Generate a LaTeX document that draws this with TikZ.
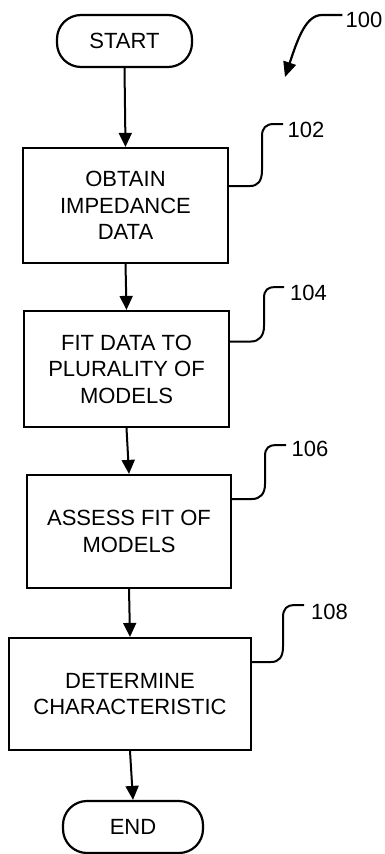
\documentclass[tikz,border=0pt]{standalone}
\usepackage{fontspec}
\setmainfont{Liberation Sans}
\usetikzlibrary{arrows.meta}
\tikzset{
  x=1pt, y=-1pt,
  box/.style={draw, line width=2.2pt, inner sep=0pt, align=center, font=\fontsize{22}{26.5}\selectfont},
  term/.style={box, rounded corners=24pt},
  lbl/.style={inner sep=0pt, font=\fontsize{22}{26.5}\selectfont},
  flow/.style={line width=2pt, -{Triangle[width=13pt,length=14pt]}},
  leader/.style={line width=2pt},
}
\begin{document}
\begin{tikzpicture}
\useasboundingbox (0,0) rectangle (384,854);
\node[term, minimum width=135pt, minimum height=52pt] (start) at (124.5,41) {START};
\node[box, minimum width=205pt, minimum height=115pt] (b102) at (125.5,205.5) {OBTAIN\\IMPEDANCE\\DATA};
\node[box, minimum width=205pt, minimum height=116pt] (b104) at (126.5,369) {FIT DATA TO\\PLURALITY OF\\MODELS};
\node[box, minimum width=204pt, minimum height=113pt] (b106) at (129,531.5) {ASSESS FIT OF\\MODELS};
\node[box, minimum width=242pt, minimum height=112pt] (b108) at (130,694) {DETERMINE\\CHARACTERISTIC};
\node[term, minimum width=140pt, minimum height=52pt] (end) at (133,827) {END};

\node[lbl] (l100) at (364,20) {100};
\node[lbl] (l102) at (306,130) {102};
\node[lbl] (l104) at (308.5,293) {104};
\node[lbl] (l106) at (310,449) {106};
\node[lbl] (l108) at (329.5,612) {108};

\draw[flow] (start.south) -- (b102.north);
\draw[flow] (b102.south) -- (b104.north);
\draw[flow] (b104.south) -- (b106.north);
\draw[flow] (b106.south) -- (b108.north);
\draw[flow] (b108.south) -- (end.north);

\draw[line width=2.2pt, -{Triangle[width=13pt,length=15pt]}] ([xshift=-3pt]l100.west |- 0,15) -- (322,15) .. controls (306,15) and (298,38) .. (285,77);

\draw[leader] (b102.east |- 0,186) -- (250,186) .. controls (258,186) and (262,181) .. (262,170) -- (262,136) .. controls (262,128) and (266,124) .. (274,124) -- (283,124);
\draw[leader] (b104.east |- 0,341.5) -- (251,341.5) .. controls (259,341.5) and (264,336) .. (264,326) -- (264,298) .. controls (264,290) and (268,287) .. (275,287) -- (284,287);
\draw[leader] (b106.east |- 0,499) -- (252,499) .. controls (260,499) and (265,494) .. (265,484) -- (265,456) .. controls (265,448) and (269,445) .. (276,445) -- (286,445);
\draw[leader] (b108.east |- 0,662) -- (271,662) .. controls (279,662) and (283,657) .. (283,647) -- (283,617) .. controls (283,609) and (287,605) .. (294,605) -- (304,605);
\end{tikzpicture}
\end{document}
